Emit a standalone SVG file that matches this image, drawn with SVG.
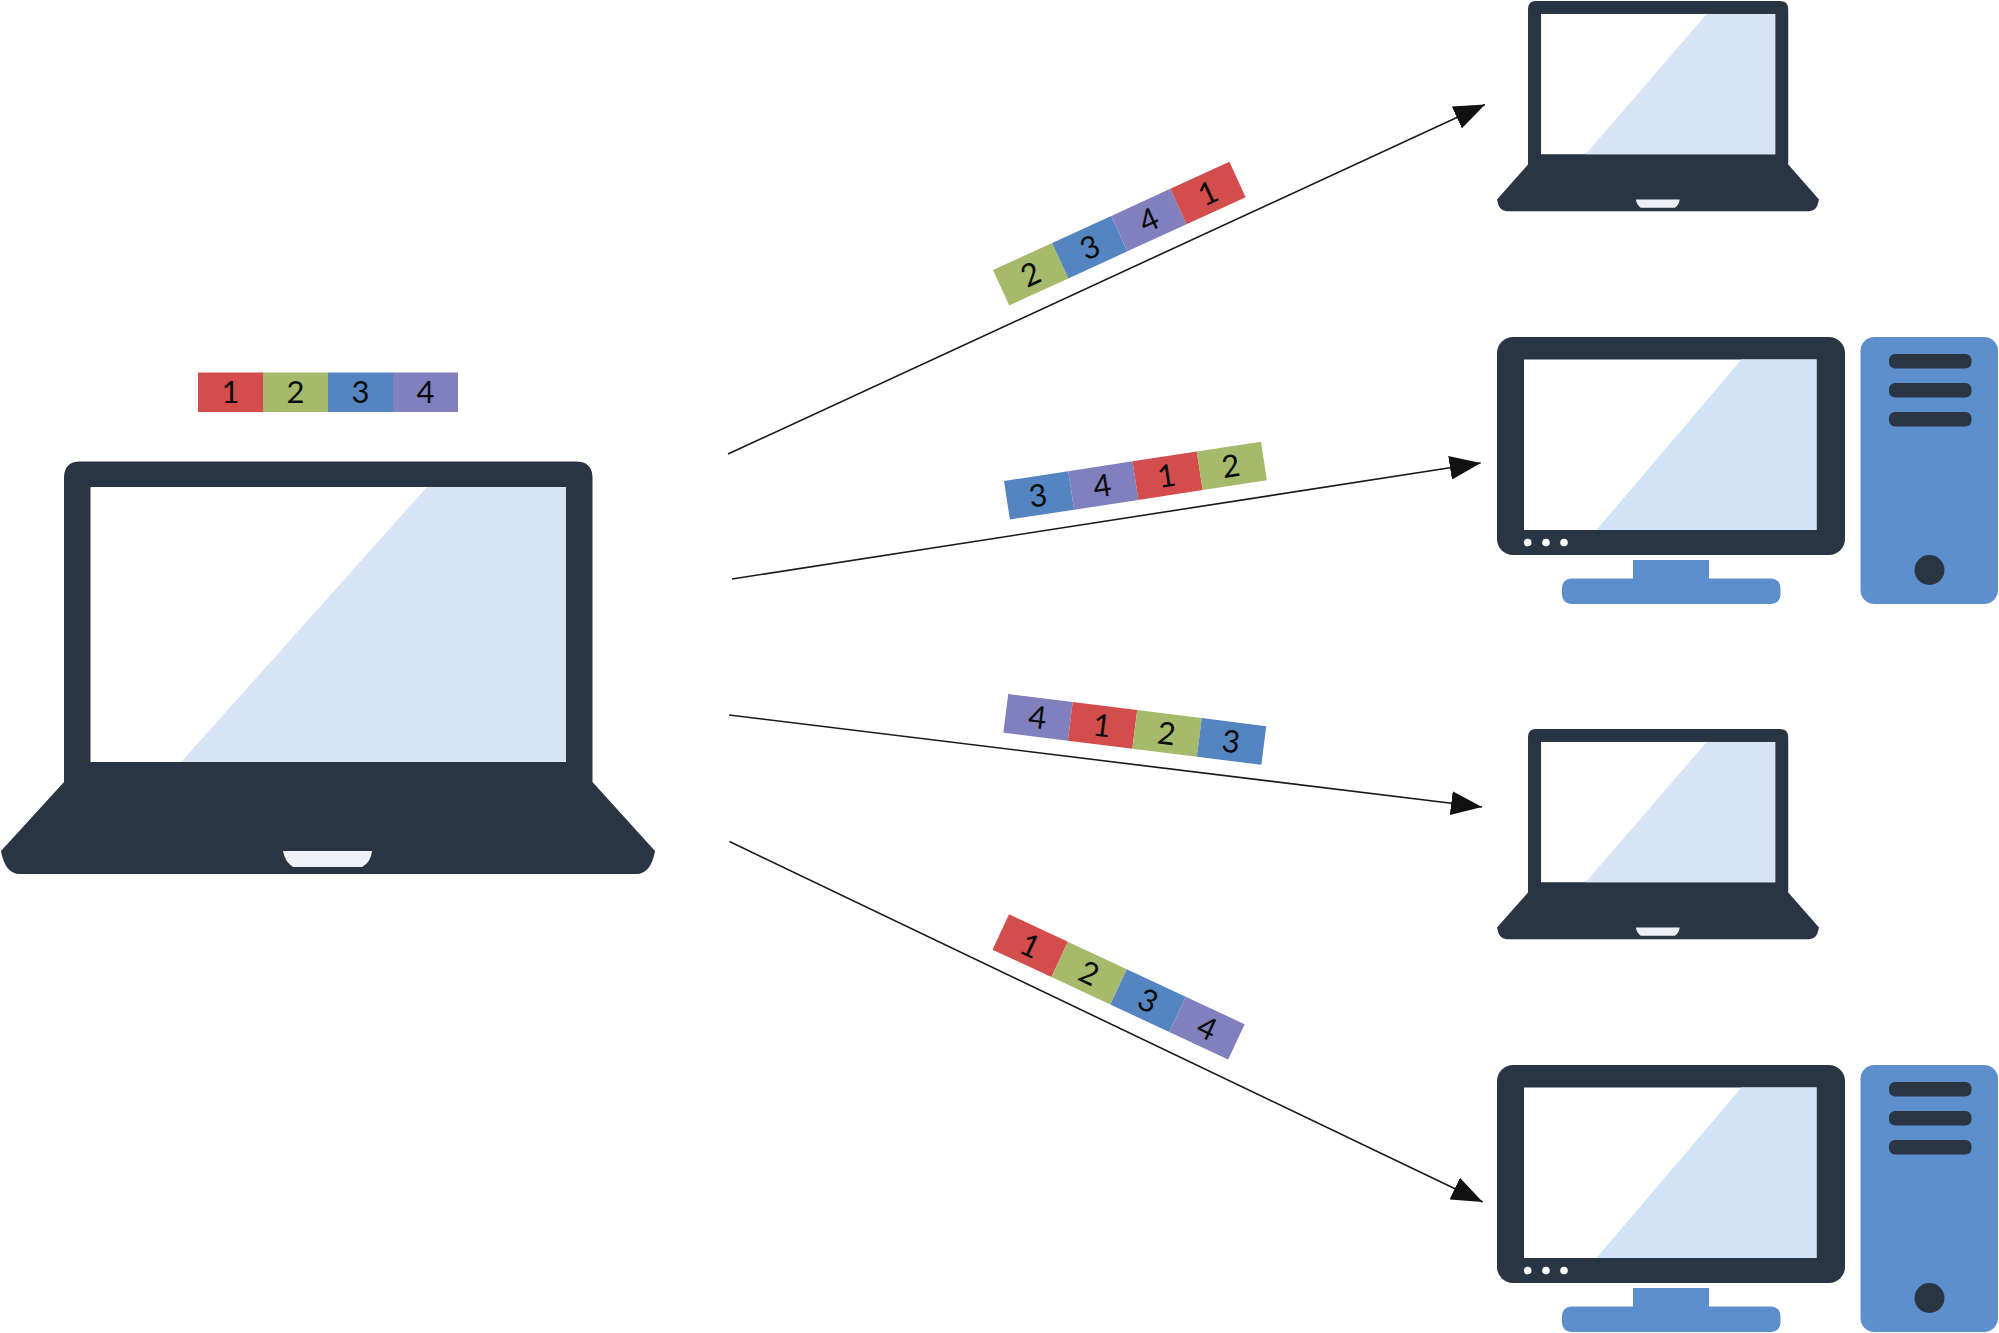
<svg xmlns="http://www.w3.org/2000/svg" xmlns:xlink="http://www.w3.org/1999/xlink" width="1999" height="1333" viewBox="0 0 1999 1333">
<style>
.dark{fill:#2a3543}
.blue{fill:#5d8fcd}
.white{fill:#fff}
.gl{fill:#d7e4f5}
.gd{fill:#d0e3f7}
.notch{fill:#eef2f6}
.c1{fill:#d24d4b}
.c2{fill:#a5bb6b}
.c3{fill:#5585c0}
.c4{fill:#7f80bd}
.n{font-family:Lato,"Open Sans","Liberation Sans",sans-serif;font-size:31px;fill:#0c0c0c;text-anchor:middle}
.link{stroke:#1a1a1a;stroke-width:1.6;fill:none;marker-end:url(#arrow)}
</style>
<defs>
<marker id="arrow" markerUnits="userSpaceOnUse" markerWidth="32" markerHeight="24" refX="31" refY="12" orient="auto">
<path d="M0,0 L31,12 L0,24 Z" fill="#111"/>
</marker>
<g id="laptop">
<path class="dark" d="M64,782 L1,851 Q5,874 20,874 H636 Q651,874 655,851 L592.5,782 V478 Q592.5,461.5 576,461.5 H80 Q64,461.5 64,478 Z"/>
<rect class="white" x="90.5" y="487" width="475.5" height="275"/>
<polygon class="gl" points="427,487 566,487 566,762 181,762"/>
<path class="notch" d="M283,851 H372 Q371,862 362,867 H293 Q285,862 283,851 Z"/>
</g>
<g id="desktop">
<rect class="dark" x="1497" y="337" width="348" height="218" rx="16"/>
<rect class="white" x="1524" y="359.500" width="292.500" height="170.500"/>
<polygon class="gd" points="1741.500,359.500 1816.500,359.500 1816.500,530 1596.500,530"/>
<circle class="white" cx="1527.700" cy="542.500" r="3.800"/>
<circle class="white" cx="1546" cy="542.500" r="3.800"/>
<circle class="white" cx="1564" cy="542.500" r="3.800"/>
<rect class="blue" x="1633" y="560" width="76" height="22"/>
<rect class="blue" x="1562" y="578.500" width="218.500" height="25.500" rx="9"/>
<rect class="blue" x="1860.500" y="337" width="137.500" height="267" rx="14"/>
<rect class="dark" x="1889" y="354" width="82.500" height="14.500" rx="6"/>
<rect class="dark" x="1889" y="383" width="82.500" height="14.500" rx="6"/>
<rect class="dark" x="1889" y="412" width="82.500" height="14.500" rx="6"/>
<circle class="dark" cx="1929.500" cy="570" r="15"/>
</g>
</defs>
<rect width="1999" height="1333" fill="#fff"/>

<g id="sender"><use href="#laptop"/></g>
<g id="receiver-1"><use href="#laptop" transform="translate(1496.500,-234.400) scale(0.4924,0.51)"/></g>
<g id="receiver-2"><use href="#desktop"/></g>
<g id="receiver-3"><use href="#laptop" transform="translate(1496.500,493.600) scale(0.4924,0.51)"/></g>
<g id="receiver-4"><use href="#desktop" transform="translate(0,728)"/></g>

<g id="connectors">
<line class="link" x1="728" y1="454" x2="1485" y2="104.500"/>
<line class="link" x1="732" y1="579" x2="1480.700" y2="463"/>
<line class="link" x1="729" y1="715" x2="1482" y2="807"/>
<line class="link" x1="729.500" y1="841.500" x2="1482.700" y2="1202"/>
</g>

<g id="packets-source" transform="translate(198,372.500)">
<rect class="c1" width="65" height="39.500"/><rect class="c2" x="65" width="65" height="39.500"/><rect class="c3" x="130" width="65" height="39.500"/><rect class="c4" x="195" width="65" height="39.500"/>
<text class="n" x="32.500" y="30.500">1</text><text class="n" x="97.500" y="30.500">2</text><text class="n" x="162.500" y="30.500">3</text><text class="n" x="227.500" y="30.500">4</text>
</g>
<g id="packets-1" transform="translate(993,270) rotate(-24.600)">
<rect class="c2" width="65" height="39"/><rect class="c3" x="65" width="65" height="39"/><rect class="c4" x="130" width="65" height="39"/><rect class="c1" x="195" width="65" height="39"/>
<text class="n" x="32.500" y="30.500">2</text><text class="n" x="97.500" y="30.500">3</text><text class="n" x="162.500" y="30.500">4</text><text class="n" x="227.500" y="30.500">1</text>
</g>
<g id="packets-2" transform="translate(1004,481) rotate(-8.700)">
<rect class="c3" width="65" height="39"/><rect class="c4" x="65" width="65" height="39"/><rect class="c1" x="130" width="65" height="39"/><rect class="c2" x="195" width="65" height="39"/>
<text class="n" x="31.500" y="30.500">3</text><text class="n" x="96.500" y="30.500">4</text><text class="n" x="161.500" y="30.500">1</text><text class="n" x="226.500" y="30.500">2</text>
</g>
<g id="packets-3" transform="translate(1008.200,694) rotate(7.100)">
<rect class="c4" width="65" height="39"/><rect class="c1" x="65" width="65" height="39"/><rect class="c2" x="130" width="65" height="39"/><rect class="c3" x="195" width="65" height="39"/>
<text class="n" x="32" y="30.500">4</text><text class="n" x="97" y="30.500">1</text><text class="n" x="162" y="30.500">2</text><text class="n" x="227" y="30.500">3</text>
</g>
<g id="packets-4" transform="translate(1009,914.300) rotate(25)">
<rect class="c1" width="65" height="39"/><rect class="c2" x="65" width="65" height="39"/><rect class="c3" x="130" width="65" height="39"/><rect class="c4" x="195" width="65" height="39"/>
<text class="n" x="32.500" y="30.500">1</text><text class="n" x="97.500" y="30.500">2</text><text class="n" x="162.500" y="30.500">3</text><text class="n" x="227.500" y="30.500">4</text>
</g>
</svg>
